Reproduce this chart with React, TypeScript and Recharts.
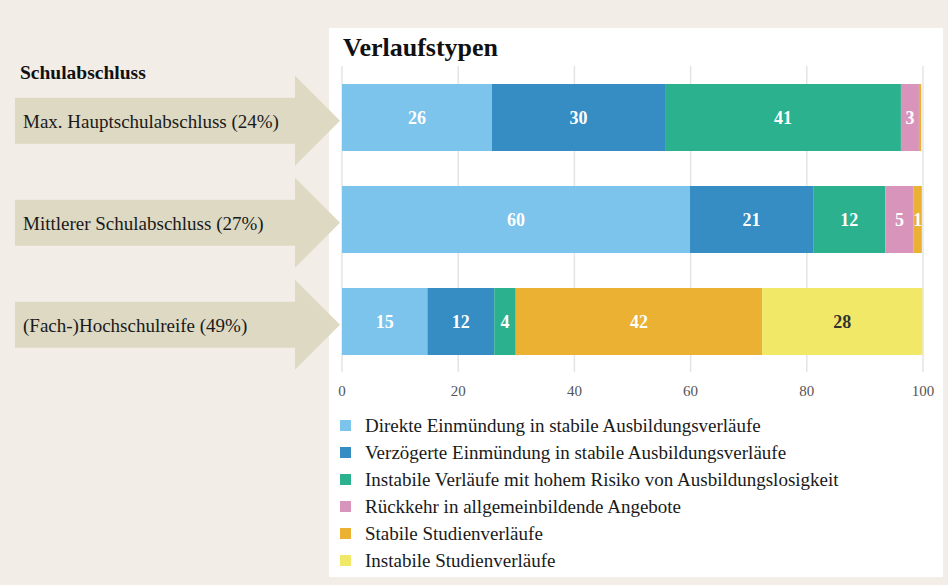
import React from 'react';
import { BarChart, Bar, XAxis, YAxis, CartesianGrid, Legend, LabelList } from 'recharts';

const categories = [
  'Max. Hauptschulabschluss (24%)',
  'Mittlerer Schulabschluss (27%)',
  '(Fach-)Hochschulreife (49%)',
];
const seriesNames = [
  'Direkte Einmündung in stabile Ausbildungsverläufe',
  'Verzögerte Einmündung in stabile Ausbildungsverläufe',
  'Instabile Verläufe mit hohem Risiko von Ausbildungslosigkeit',
  'Rückkehr in allgemeinbildende Angebote',
  'Stabile Studienverläufe',
  'Instabile Studienverläufe',
];
const direkte = [25.8, 59.9, 14.7];
const verzoegert = [29.8, 21.2, 11.5];
const instabil = [40.6, 12.4, 3.7];
const rueckkehr = [3.1, 4.9, 0];
const stabilStudium = [0.4, 1.4, 42.4];
const instabilStudium = [0, 0, 27.6];
const xTicks = [0, 20, 40, 60, 80, 100];

const colors = ['#7cc4ec', '#358dc3', '#2bb18d', '#d894bb', '#ebb132', '#f0e866'];
const labelColors = ['#fff', '#fff', '#fff', '#fff', '#fff', '#333'];
const keys = ['s0', 's1', 's2', 's3', 's4', 's5'];
const seriesValues = [direkte, verzoegert, instabil, rueckkehr, stabilStudium, instabilStudium];

const data = categories.map((name, i) => {
  const row: any = { name };
  keys.forEach((k, j) => {
    row[k] = seriesValues[j][i];
  });
  return row;
});

const FONT = '"Liberation Serif", "Times New Roman", serif';

const ArrowTick = (props: any) => {
  const { y, payload } = props;
  const c = y + 3.8;
  const pts = [
    [15, c - 23],
    [295, c - 23],
    [295, c - 45],
    [340, c],
    [295, c + 45],
    [295, c + 23],
    [15, c + 23],
  ]
    .map((p) => p.join(','))
    .join(' ');
  return (
    <g>
      <polygon points={pts} fill="#ddd9c3" />
      <text x={23} y={c + 7} fontSize={19} fill="#1a1a1a" fontFamily={FONT}>
        {payload.value}
      </text>
    </g>
  );
};

const renderLegend = () => {
  return (
    <div style={{ paddingTop: 10, fontFamily: FONT }}>
      {seriesNames.map((name, i) => (
        <div key={i} style={{ display: 'flex', alignItems: 'center', height: 27 }}>
          <div style={{ width: 11, height: 11, background: colors[i], flex: 'none' }} />
          <span style={{ marginLeft: 14, fontSize: 19, color: '#1a1a1a', lineHeight: '27px', whiteSpace: 'nowrap' }}>{name}</span>
        </div>
      ))}
    </div>
  );
};

export default function App() {
  return (
    <div
      style={{
        position: 'absolute',
        left: 0,
        top: 0,
        width: 948,
        height: 585,
        background: '#f2eee7',
        fontFamily: FONT,
        overflow: 'hidden',
      }}
    >
      <div style={{ position: 'absolute', left: 329, top: 28, width: 614, height: 549, background: '#ffffff' }} />
      <div style={{ position: 'absolute', left: 343, top: 35, fontSize: 26, lineHeight: '26px', fontWeight: 'bold', color: '#111' }}>
        Verlaufstypen
      </div>
      <div style={{ position: 'absolute', left: 20, top: 63, fontSize: 19.5, lineHeight: '20px', fontWeight: 'bold', color: '#111' }}>
        Schulabschluss
      </div>
      <div style={{ position: 'absolute', left: 0, top: 0 }}>
        <BarChart
          width={948}
          height={585}
          data={data}
          layout="vertical"
          margin={{ top: 66, right: 25, left: 0, bottom: 11 }}
          style={{ fontFamily: FONT }}
        >
          <CartesianGrid horizontal={false} vertical={true} stroke="#e4e4e4" strokeWidth={1.5} />
          <XAxis
            type="number"
            domain={[0, 100]}
            ticks={xTicks}
            axisLine={false}
            tickLine={false}
            tickMargin={7}
            tick={{ fontSize: 15, fill: '#555', fontFamily: FONT }}
            interval={0}
          />
          <YAxis
            type="category"
            dataKey="name"
            width={342}
            axisLine={false}
            tickLine={false}
            tick={<ArrowTick />}
            interval={0}
          />
          <Legend
            verticalAlign="bottom"
            align="left"
            content={renderLegend}
            wrapperStyle={{ left: 340, width: 600, height: 172 }}
          />
          {keys.map((k, j) => (
            <Bar
              key={k}
              dataKey={k}
              name={seriesNames[j]}
              stackId="a"
              fill={colors[j]}
              barSize={67}
              isAnimationActive={false}
            >
              <LabelList
                dataKey={k}
                position="center"
                formatter={(v: any) => (Math.round(Number(v)) >= 1 ? String(Math.round(Number(v))) : '')}
                fill={labelColors[j]}
                fontSize={18}
                fontWeight="bold"
                fontFamily={FONT}
              />
            </Bar>
          ))}
        </BarChart>
      </div>
    </div>
  );
}
